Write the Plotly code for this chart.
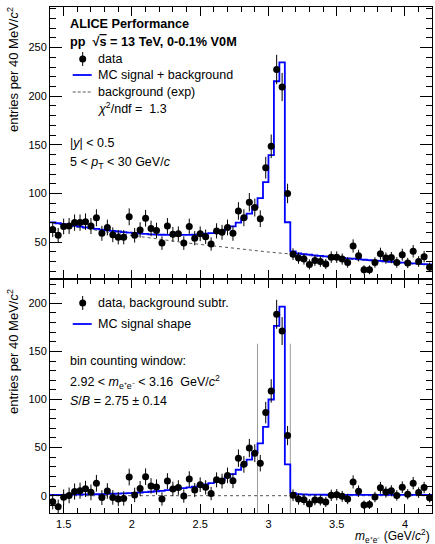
import numpy as np
import plotly.graph_objects as go

W, H = 435, 544

# 40 MeV/c^2 bins from 1.40 to 4.20 GeV/c^2
bin_edges = np.round(1.40 + 0.04 * np.arange(71), 2)
bin_centers = np.round(0.5 * (bin_edges[:-1] + bin_edges[1:]), 2)

# same-event e+e- invariant-mass spectrum (entries per bin)
data_counts = [
    63, 57, 66, 66.5, 70, 70, 71, 66.5, 75, 59,
    65, 57.5, 55, 55, 76, 57, 62.5, 74.5, 64, 62,
    49, 66.5, 58, 58.5, 49, 66, 54, 58.5, 55.5, 48,
    61.5, 60, 65, 59, 82, 75, 91, 85.5, 74, 126.5,
    148.5, 227.5, 209.5, 100, 37.5, 33.5, 32.5, 27, 31, 30,
    27.5, 34.5, 34.5, 32.5, 29, 46, 36, 21.5, 21.5, 29,
    38, 33.5, 34, 29, 37, 28.5, 40.5, 30, 35, 24,
]

# statistical uncertainties of the entries
stat_err = [
    7.9, 7.5, 8.1, 8.2, 8.4, 8.4, 8.4, 8.2, 8.7, 7.7,
    8.1, 7.6, 7.4, 7.4, 8.7, 7.5, 7.9, 8.6, 8.0, 7.9,
    7.0, 8.2, 7.6, 7.6, 7.0, 8.1, 7.3, 7.6, 7.4, 6.9,
    7.8, 7.7, 8.1, 7.7, 9.1, 8.7, 9.5, 9.2, 8.6, 11.2,
    12.2, 15.1, 14.5, 10.0, 6.1, 5.8, 5.7, 5.2, 5.6, 5.5,
    5.2, 5.9, 5.9, 5.7, 5.4, 6.8, 6.0, 4.6, 4.6, 5.4,
    6.2, 5.8, 5.8, 5.4, 6.1, 5.3, 6.4, 5.5, 5.9, 4.9,
]

# exponential background fit evaluated at the bin centres
bkg_fit = [
    69.51, 68.53, 67.57, 66.62, 65.69, 64.77, 63.86, 62.96, 62.08, 61.21,
    60.35, 59.50, 58.67, 57.84, 57.03, 56.23, 55.44, 54.66, 53.90, 53.14,
    52.40, 51.66, 50.94, 50.22, 49.52, 48.82, 48.14, 47.46, 46.80, 46.14,
    45.49, 44.86, 44.23, 43.61, 43.00, 42.39, 41.80, 41.21, 40.63, 40.06,
    39.50, 38.95, 38.40, 37.86, 37.33, 36.81, 36.29, 35.78, 35.28, 34.79,
    34.30, 33.82, 33.34, 32.87, 32.41, 31.96, 31.51, 31.07, 30.63, 30.20,
    29.78, 29.36, 28.95, 28.54, 28.14, 27.75, 27.36, 26.97, 26.60, 26.22,
]

# MC J/psi signal shape (normalised to the data)
mc_signal = [
    0.8, 0.8, 0.9, 1.0, 1.1, 1.2, 1.3, 1.4, 1.5, 1.6,
    1.8, 2.0, 2.2, 2.4, 2.7, 3.0, 3.3, 3.7, 4.1, 4.6,
    5.1, 5.7, 6.3, 7.0, 7.8, 8.6, 9.5, 10.5, 11.8, 13.0,
    14.5, 16.5, 19.5, 22.5, 27.0, 32.0, 37.5, 45.0, 54.5, 71.5,
    100.0, 176.5, 196.5, 32.5, 3.0, 1.6, 1.3, 1.2, 1.1, 1.1,
    1.0, 1.0, 1.0, 0.9, 0.9, 0.9, 0.9, 0.9, 0.8, 0.8,
    0.8, 0.8, 0.8, 0.8, 0.8, 0.8, 0.8, 0.8, 0.8, 0.8,
]

# background-subtracted spectrum
data_sub = [
    -6.3, -11.5, -1.6, 0.3, 4.3, 5.2, 7.1, 3.5, 12.9, -2.0,
    4.9, -1.8, -3.5, -2.9, 19.4, 0.8, 7.4, 19.8, 10.2, 9.1,
    -3.4, 15.2, 7.0, 8.5, -0.3, 17.3, 5.9, 11.4, 8.7, 2.2,
    16.5, 15.2, 21.1, 15.5, 39.0, 32.6, 49.5, 44.2, 33.8, 86.4,
    108.9, 188.6, 171.2, 62.5, 0.4, -3.5, -4.1, -8.7, -4.4, -4.7,
    -6.5, 0.4, 1.0, -0.7, -3.4, 14.3, 4.7, -9.6, -9.2, -1.4,
    8.2, 3.8, 5.1, 0.3, 8.8, 1.5, 13.0, 3.2, 8.5, -2.1,
]

# bin-counting window (GeV/c^2) and its drawn height
window = [2.92, 3.16]
window_top = 158

x_range = [1.40, 4.20]
y_top_range = [12, 291.5]
y_bot_range = [-18.3, 225.3]

x_ticks = [1.5, 2, 2.5, 3, 3.5, 4]
x_tick_text = ["1.5", "2", "2.5", "3", "3.5", "4"]

FONT = "Liberation Sans, Arial, Helvetica, sans-serif"
BLUE = "#0000ff"
DASH_GREY = "#555555"

mc_total = [b + s for b, s in zip(bkg_fit, mc_signal)]


def step_y(vals):
    return list(vals) + [vals[-1]]


fig = go.Figure()

# ---- upper pad ----
fig.add_trace(go.Scatter(
    x=bin_centers, y=bkg_fit, mode="lines", xaxis="x", yaxis="y",
    line=dict(color=DASH_GREY, width=1, dash="3px,3px"), hoverinfo="skip"))
fig.add_trace(go.Scatter(
    x=bin_edges, y=step_y(mc_total), mode="lines", xaxis="x", yaxis="y",
    line=dict(color=BLUE, width=1.8, shape="hv"), hoverinfo="skip"))
fig.add_trace(go.Scatter(
    x=bin_centers, y=data_counts, mode="markers", xaxis="x", yaxis="y",
    marker=dict(color="black", size=7),
    error_y=dict(type="data", array=stat_err, thickness=1, width=0, color="black")))

# ---- lower pad ----
for xw in window:
    fig.add_trace(go.Scatter(
        x=[xw, xw], y=[y_bot_range[0], window_top], mode="lines",
        xaxis="x2", yaxis="y2", line=dict(color="#9a9a9a", width=1),
        hoverinfo="skip"))
fig.add_trace(go.Scatter(
    x=bin_edges, y=step_y(mc_signal), mode="lines", xaxis="x2", yaxis="y2",
    line=dict(color=BLUE, width=1.8, shape="hv"), hoverinfo="skip"))
fig.add_trace(go.Scatter(
    x=bin_centers, y=data_sub, mode="markers", xaxis="x2", yaxis="y2",
    marker=dict(color="black", size=7),
    error_y=dict(type="data", array=stat_err, thickness=1, width=0, color="black")))

# zero line in the lower pad
fig.add_shape(type="line", xref="x2 domain", yref="y2", x0=0, x1=1, y0=0, y1=0,
              line=dict(color=DASH_GREY, width=1, dash="3px,3px"), layer="below")

# pad geometry in pixels
PX_L, PX_R = 50, 432.3
PY_TOP, PY_MID, PY_BOT = 7.3, 279, 513.3


def fx(px):
    return px / W


def fy(py):
    return 1 - py / H


axis_common = dict(
    showline=True, linecolor="black", linewidth=1, mirror="allticks",
    ticks="inside", tickcolor="black", showgrid=False, zeroline=False,
    tickfont=dict(family=FONT, size=11, color="black"),
)

fig.update_layout(
    width=W, height=H, margin=dict(l=0, r=0, t=0, b=0),
    paper_bgcolor="white", plot_bgcolor="white", showlegend=False,
    font=dict(family=FONT, size=13, color="black"),
    xaxis=dict(axis_common, domain=[fx(PX_L), fx(PX_R)], range=x_range,
               anchor="y", tickvals=x_ticks, showticklabels=False, ticklen=9,
               minor=dict(dtick=0.1, tick0=1.4, ticklen=5, ticks="inside", tickcolor="black")),
    yaxis=dict(axis_common, domain=[fy(PY_MID), fy(PY_TOP)], range=y_top_range,
               anchor="x", dtick=50, tick0=0, ticklen=12,
               minor=dict(dtick=10, ticklen=6, ticks="inside", tickcolor="black")),
    xaxis2=dict(axis_common, domain=[fx(PX_L), fx(PX_R)], range=x_range,
                anchor="y2", tickvals=x_ticks, ticktext=x_tick_text, ticklen=9,
                minor=dict(dtick=0.1, tick0=1.4, ticklen=5, ticks="inside", tickcolor="black")),
    yaxis2=dict(axis_common, domain=[fy(PY_BOT), fy(PY_MID)], range=y_bot_range,
                anchor="x2", dtick=50, tick0=0, ticklen=12,
                minor=dict(dtick=10, ticklen=6, ticks="inside", tickcolor="black")),
)


def label(px, py, text, size=12.5, anchor="left", **kw):
    fig.add_annotation(x=fx(px), y=fy(py), xref="paper", yref="paper", text=text,
                       showarrow=False, xanchor=anchor, yanchor="middle",
                       font=dict(family=FONT, size=size, color="black"), **kw)


# upper pad texts
label(68, 24, "<b>ALICE Performance</b>", size=12.7)
label(68, 42, "<b>pp  \u221A<span style='text-decoration:overline'>s</span> = 13 TeV, 0-0.1% V0M</b>", size=12.7)
label(96, 59, "data")
label(96, 75, "MC signal + background")
label(96, 92, "background (exp)")
label(96, 108, "<i>\u03C7</i><sup>2</sup>/ndf =  1.3")
label(68, 143, "|<i>y</i>| < 0.5")
label(68, 163, "5 < <i>p</i><sub>T</sub> < 30 GeV/<i>c</i>")

# lower pad texts
label(96, 303, "data, background subtr.")
label(96, 324, "MC signal shape")
label(68, 361, "bin counting window:")
label(68, 382, "2.92 < <i>m</i><sub>e\u207Ae\u207B</sub> < 3.16  GeV/<i>c</i><sup>2</sup>")
label(68, 401, "<i>S</i>/<i>B</i> = 2.75 \u00B1 0.14")

# axis titles
label(13, 70, "entries per 40 MeV/<i>c</i><sup>2</sup>", size=13, anchor="center", textangle=-90)
label(13, 352, "entries per 40 MeV/<i>c</i><sup>2</sup>", size=13, anchor="center", textangle=-90)
label(432, 535.5, "<i>m</i><sub>e\u207Ae\u207B</sub> (GeV/<i>c</i><sup>2</sup>)", size=12, anchor="right")

# legend glyphs
for py in (59, 303):
    fig.add_shape(type="line", xref="paper", yref="paper",
                  x0=fx(82.7), x1=fx(82.7), y0=fy(py - 7), y1=fy(py + 7),
                  line=dict(color="black", width=1))
    fig.add_shape(type="circle", xref="paper", yref="paper",
                  x0=fx(82.7 - 3.5), x1=fx(82.7 + 3.5), y0=fy(py - 3.5), y1=fy(py + 3.5),
                  line=dict(color="black", width=0), fillcolor="black")
for py in (75, 324):
    fig.add_shape(type="line", xref="paper", yref="paper",
                  x0=fx(72.7), x1=fx(91.7), y0=fy(py), y1=fy(py),
                  line=dict(color=BLUE, width=1.8))
fig.add_shape(type="line", xref="paper", yref="paper",
              x0=fx(72.7), x1=fx(91.7), y0=fy(92), y1=fy(92),
              line=dict(color=DASH_GREY, width=1, dash="3px,2px"))

fig.write_html("out.html")
